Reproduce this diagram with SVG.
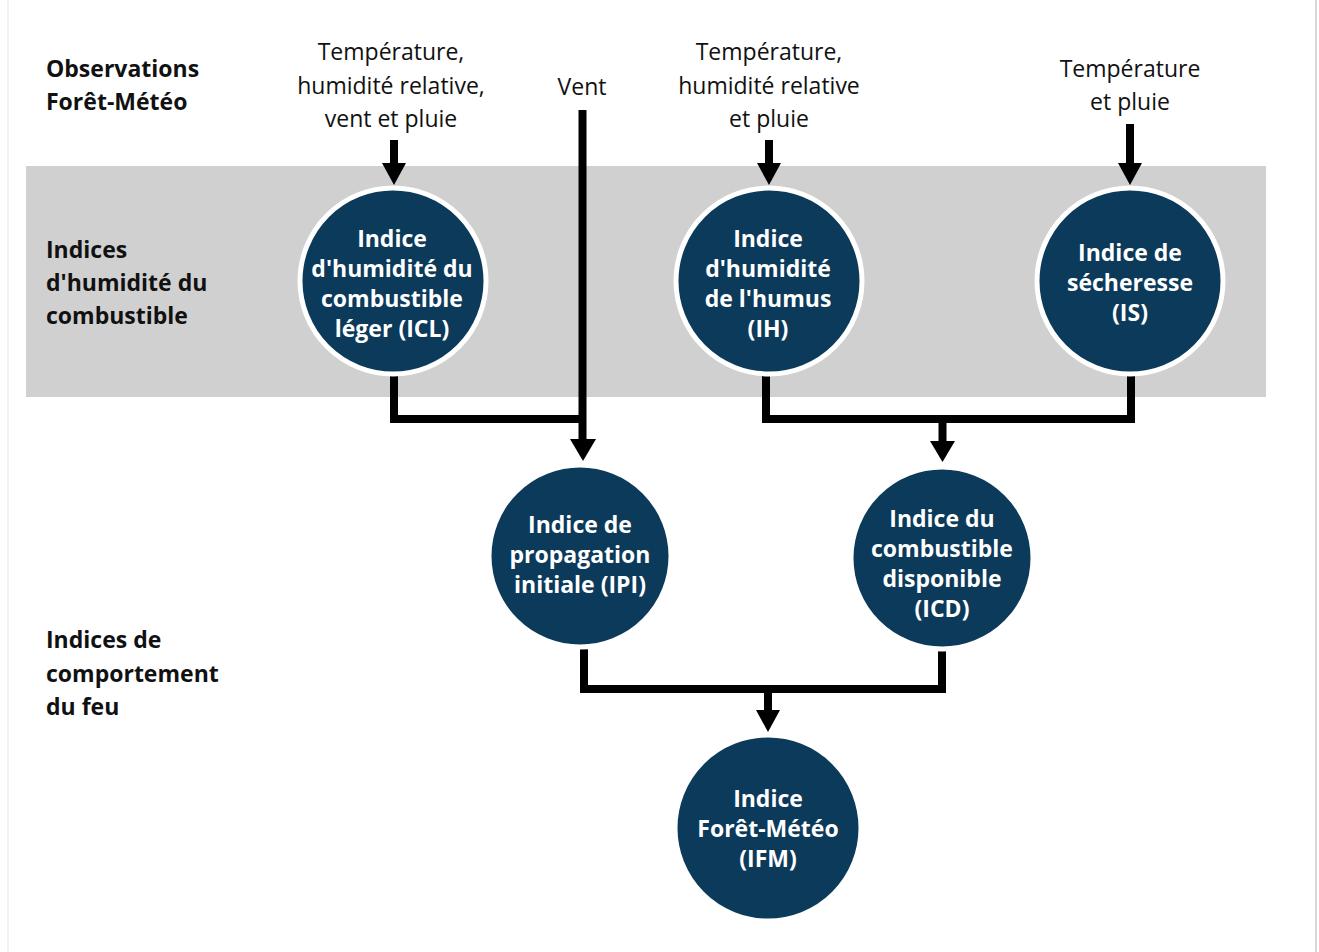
<svg xmlns="http://www.w3.org/2000/svg" width="1319" height="952" viewBox="0 0 1319 952">
<style>
.lab{font-family:"Open Sans","Liberation Sans",sans-serif;font-size:23px;fill:#111;}
.hd{font-family:"Open Sans","Liberation Sans",sans-serif;font-size:23px;font-weight:bold;fill:#111;}
.nd{fill:#0c3a5b;stroke:#fff;stroke-width:5;}
.nt{font-family:"Open Sans","Liberation Sans",sans-serif;font-size:23px;font-weight:bold;fill:#fff;text-anchor:middle;}
.c{fill:none;stroke:#000;stroke-width:8;}
.ah{fill:#000;}
</style>
<rect width="1319" height="952" fill="#fff"/>
<line x1="8" y1="0" x2="8" y2="952" stroke="#eeeeee" stroke-width="1.5"/>
<line x1="1316" y1="0" x2="1316" y2="952" stroke="#d8d8d8" stroke-width="2"/>
<rect x="26" y="166" width="1240" height="231" fill="#d0d0d0"/>

<g id="row-labels">
<text class="hd" x="46" y="77">Observations</text>
<text class="hd" x="46" y="110">Forêt-Météo</text>
<text class="hd" x="46" y="258">Indices</text>
<text class="hd" x="46" y="291">d'humidité du</text>
<text class="hd" x="46" y="324">combustible</text>
<text class="hd" x="46" y="648">Indices de</text>
<text class="hd" x="46" y="682">comportement</text>
<text class="hd" x="46" y="715">du feu</text>
</g>

<g id="obs-icl">
<text class="lab" x="391" y="60" text-anchor="middle">Température,</text>
<text class="lab" x="391" y="94" text-anchor="middle">humidité relative,</text>
<text class="lab" x="391" y="127" text-anchor="middle">vent et pluie</text>
</g>
<g id="obs-vent"><text class="lab" x="582" y="95" text-anchor="middle">Vent</text></g>
<g id="obs-ih">
<text class="lab" x="769" y="60" text-anchor="middle">Température,</text>
<text class="lab" x="769" y="94" text-anchor="middle">humidité relative</text>
<text class="lab" x="769" y="127" text-anchor="middle">et pluie</text>
</g>
<g id="obs-is">
<text class="lab" x="1130" y="77" text-anchor="middle">Température</text>
<text class="lab" x="1130" y="110" text-anchor="middle">et pluie</text>
</g>

<g id="connectors">
<line class="c" x1="394" y1="140" x2="394" y2="164"/>
<polygon class="ah" points="382,163 406,163 394,185"/>
<line class="c" x1="769" y1="140" x2="769" y2="164"/>
<polygon class="ah" points="757,163 781,163 769,185"/>
<line class="c" x1="1130" y1="124" x2="1130" y2="164"/>
<polygon class="ah" points="1118,163 1142,163 1130,185"/>
<line class="c" x1="582.5" y1="110" x2="582.5" y2="440"/>
<polygon class="ah" points="570,439 596,439 583,461"/>
<polyline class="c" points="394,376 394,419 582.5,419"/>
<polyline class="c" points="766,376 766,419 1131,419 1131,376"/>
<line class="c" x1="942.5" y1="419" x2="942.5" y2="442"/>
<polygon class="ah" points="930,441 955,441 942.5,462"/>
<polyline class="c" points="584,646 584,689 942,689 942,650"/>
<line class="c" x1="768" y1="689" x2="768" y2="711"/>
<polygon class="ah" points="756,710 780,710 768,732"/>
</g>

<g id="icl">
<circle class="nd" cx="393" cy="281" r="93"/>
<text class="nt" x="392" y="247">Indice</text>
<text class="nt" x="392" y="277">d'humidité du</text>
<text class="nt" x="392" y="307">combustible</text>
<text class="nt" x="392" y="337">léger (ICL)</text>
</g>
<g id="ih">
<circle class="nd" cx="769" cy="281" r="93"/>
<text class="nt" x="768" y="247">Indice</text>
<text class="nt" x="768" y="277">d'humidité</text>
<text class="nt" x="768" y="307">de l'humus</text>
<text class="nt" x="768" y="337">(IH)</text>
</g>
<g id="is">
<circle class="nd" cx="1130" cy="281" r="93"/>
<text class="nt" x="1130" y="261">Indice de</text>
<text class="nt" x="1130" y="291">sécheresse</text>
<text class="nt" x="1130" y="321">(IS)</text>
</g>
<g id="ipi">
<circle class="nd" cx="580" cy="556" r="91"/>
<text class="nt" x="580" y="533">Indice de</text>
<text class="nt" x="580" y="563">propagation</text>
<text class="nt" x="580" y="593">initiale (IPI)</text>
</g>
<g id="icd">
<circle class="nd" cx="942" cy="558" r="91"/>
<text class="nt" x="942" y="527">Indice du</text>
<text class="nt" x="942" y="557">combustible</text>
<text class="nt" x="942" y="587">disponible</text>
<text class="nt" x="942" y="617">(ICD)</text>
</g>
<g id="ifm">
<circle class="nd" cx="768" cy="828" r="93"/>
<text class="nt" x="768" y="807">Indice</text>
<text class="nt" x="768" y="837">Forêt-Météo</text>
<text class="nt" x="768" y="867">(IFM)</text>
</g>
</svg>
